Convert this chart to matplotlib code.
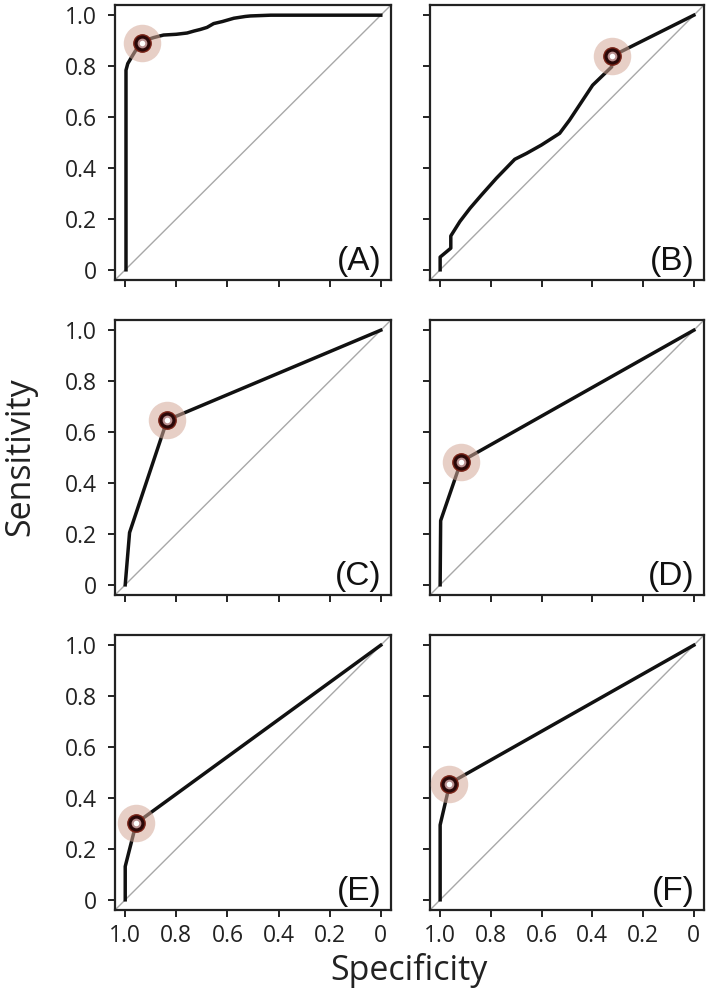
import matplotlib
matplotlib.use("Agg")
import matplotlib.pyplot as plt

# ---- data (specificity, sensitivity) ----
spec_A = [0.997, 0.997, 0.99, 0.974, 0.96, 0.935, 0.91, 0.889, 0.85, 0.80, 0.758, 0.73, 0.706, 0.68, 0.654, 0.62, 0.575, 0.53, 0.51, 0.431, 0.0]
sens_A = [0.0, 0.784, 0.81, 0.837, 0.86, 0.889, 0.905, 0.912, 0.922, 0.925, 0.930, 0.938, 0.944, 0.952, 0.967, 0.975, 0.988, 0.995, 0.997, 1.0, 1.0]
spec_B = [1.0, 1.0, 0.958, 0.958, 0.922, 0.882, 0.837, 0.778, 0.706, 0.66, 0.601, 0.529, 0.490, 0.399, 0.324, 0.323, 0.0]
sens_B = [0.0, 0.05, 0.085, 0.133, 0.190, 0.242, 0.294, 0.36, 0.434, 0.457, 0.49, 0.536, 0.588, 0.725, 0.797, 0.839, 1.0]
spec_C = [1.0, 0.993, 0.983, 0.836, 0.0]
sens_C = [0.0, 0.085, 0.205, 0.647, 1.0]
spec_D = [1.0, 0.998, 0.918, 0.0]
sens_D = [0.0, 0.252, 0.484, 1.0]
spec_E = [1.0, 1.0, 0.957, 0.0]
sens_E = [0.0, 0.131, 0.301, 1.0]
spec_F = [1.0, 1.0, 0.971, 0.967, 0.0]
sens_F = [0.0, 0.294, 0.418, 0.455, 1.0]

# optimal cut-off points
best_spec = [0.935, 0.323, 0.836, 0.918, 0.957, 0.967]
best_sens = [0.889, 0.839, 0.647, 0.484, 0.301, 0.455]

panel_labels = ["(A)", "(B)", "(C)", "(D)", "(E)", "(F)"]
tick_vals = [1.0, 0.8, 0.6, 0.4, 0.2, 0.0]
tick_text = ["1.0", "0.8", "0.6", "0.4", "0.2", "0"]

curves = [(spec_A, sens_A), (spec_B, sens_B), (spec_C, sens_C),
          (spec_D, sens_D), (spec_E, sens_E), (spec_F, sens_F)]

W, H = 709, 999
fig = plt.figure(figsize=(W / 100, H / 100), dpi=100)

lefts = [115, 430]
widths = [276, 274]
tops = [5, 320, 635]
height = 275

tick_font = "Open Sans"
for i, (sx, sy) in enumerate(curves):
    r, c = divmod(i, 2)
    l = lefts[c] / W
    b = 1 - (tops[r] + height) / H
    ax = fig.add_axes([l, b, widths[c] / W, height / H])
    ax.set_xlim(1.04, -0.04)
    ax.set_ylim(-0.04, 1.04)
    ax.axline((1, 0), (0, 1), color="#a8a8a8", lw=1.0, zorder=1)
    ax.plot(sx, sy, color="#111111", lw=2.5, solid_joinstyle="round", zorder=2)
    # marker with halo
    ax.plot(best_spec[i], best_sens[i], "o", ms=27, color="#d4a898", alpha=0.55,
            mec="none", zorder=3)
    ax.plot(best_spec[i], best_sens[i], "o", ms=12.5, color="#2a0808",
            mec="#7a2418", mew=1.0, zorder=4)
    ax.plot(best_spec[i], best_sens[i], "o", ms=7, color="#b89090",
            mec="none", zorder=5)
    ax.plot(best_spec[i], best_sens[i], "o", ms=4, color="#ffffff",
            mec="none", zorder=6)
    ax.set_xticks(tick_vals)
    ax.set_yticks(tick_vals)
    if r == 2:
        ax.set_xticklabels(tick_text, fontfamily=tick_font, fontsize=16.5)
    else:
        ax.set_xticklabels([])
    if c == 0:
        ax.set_yticklabels(tick_text, fontfamily=tick_font, fontsize=16.5)
    else:
        ax.set_yticklabels([])
    ax.tick_params(direction="out", length=5, width=1.4, color="#222222",
                   labelcolor="#222222")
    ax.tick_params(axis="y", pad=8)
    ax.tick_params(axis="x", pad=5)
    for sp in ax.spines.values():
        sp.set_linewidth(1.6)
        sp.set_color("#222222")
    ax.text(0.967, 0.012, panel_labels[i], transform=ax.transAxes,
            ha="right", va="bottom", fontsize=24, fontfamily="Liberation Sans",
            color="#111111")

fig.text(0.028, 1 - 457 / H, "Sensitivity", rotation=90, ha="center",
         va="center", fontsize=24.5, fontfamily=tick_font, color="#222222")
fig.text(409 / W, 1 - 970 / H, "Specificity", ha="center", va="center",
         fontsize=24.5, fontfamily=tick_font, color="#222222")

fig.savefig("out.png", dpi=100)
